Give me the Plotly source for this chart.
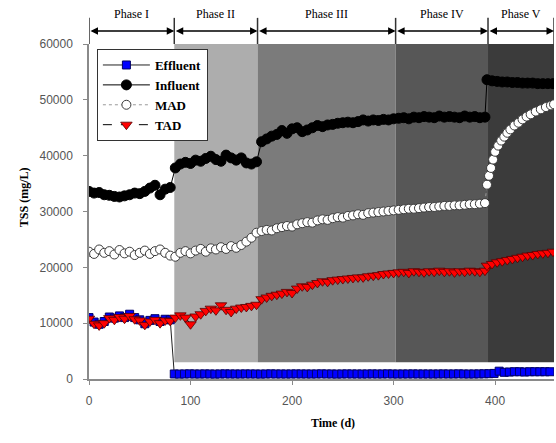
import plotly.graph_objects as go

# ---------------- data ----------------
grid_main = list(range(0, 391, 5))           # days 0..390 (phases I-IV)
days_v = list(range(392, 458, 5))            # phase V days

influent_vals = [
    # phase I (0-80)
    33600, 33300, 33400, 33000, 32900, 32700, 32600, 32800, 33000, 33300,
    33200, 33600, 34200, 34700, 33000, 34000, 34300,
    # phase II (85-165)
    37800, 38500, 38800, 38600, 39200, 39000, 39500, 39900, 39300, 39000,
    40100, 39600, 39200, 39600, 38700, 38500, 38900,
    # phase III (170-300)
    42500, 43000, 43500, 43800, 44500, 44000, 44800, 45000, 44300, 44600,
    45000, 45400, 45200, 45500, 45600, 45800, 45900, 46000, 45900, 46100,
    46400, 46200, 46400, 46300, 46500, 46400, 46600,
    # phase IV (305-390)
    46700, 46800, 46600, 46900, 46800, 47000, 46900, 46800, 47100, 46900,
    47000, 46900, 46800, 47100, 46900, 47000, 46800, 46900,
]
influent_v = [53600, 53400, 53300, 53200, 53200, 53100, 53100, 53000, 53000,
              53000, 52900, 52900, 52900, 52900]

mad_vals = [
    22800, 22400, 23200, 22600, 22900, 22300, 23100, 22500, 22800, 22200,
    22600, 23000, 22400, 22900, 23200, 22600, 22100,
    21900, 22600, 22900, 22500, 23000, 23300, 22800, 23400, 23200, 23600,
    23300, 23800, 23500, 24000, 24600, 25300, 26200,
    26500, 26700, 26600, 27000, 27200, 27400, 27300, 27700, 27900, 28100,
    28000, 28400, 28600, 28500, 28800, 29000, 28900, 29200, 29300, 29500,
    29400, 29700, 29800, 29900, 30000, 30100, 30200,
    30300, 30400, 30500, 30500, 30600, 30700, 30800, 30800, 30900, 31000,
    31000, 31100, 31100, 31200, 31300, 31300, 31400, 31500,
]
mad_days_v = [392, 394, 396, 398, 400, 403, 406, 409, 412, 415, 419, 423,
              427, 431, 435, 440, 445, 450, 455, 458]
mad_v = [34800, 36400, 37800, 39300, 40700, 41800, 42700, 43400, 44100, 44700,
         45400, 45900, 46500, 47000, 47400, 47900, 48300, 48700, 49000, 49200]

tad_vals = [
    10800, 9900, 9600, 10000, 10900, 10600, 11100, 10800, 11300, 10700,
    10500, 9700, 10300, 10600, 10000, 10500, 10400,
    11000, 11400, 11000, 9800, 11200, 11600, 12200, 12600, 12300, 13200,
    12400, 12000, 12600, 12800, 12900, 13100, 13300,
    14300, 14600, 14900, 15100, 15300, 15600, 15400, 16200, 16600, 16500,
    16900, 17200, 17500, 17400, 17700, 17800, 17900, 18000, 18100, 18200,
    18200, 18400, 18500, 18600, 18800, 18900, 19000,
    19100, 19200, 19000, 19300, 19200, 19100, 19300, 19200, 19400, 19200,
    19300, 19100, 19300, 19200, 19400, 19300, 19200, 19400,
]
tad_v = [20300, 20600, 20900, 21100, 21300, 21500, 21700, 21900, 22100,
         22200, 22400, 22500, 22600, 22800]

eff_days_1 = list(range(0, 81, 5))
eff_vals_1 = [11000, 10200, 9800, 10300, 11100, 10900, 11300, 11000, 11600,
              11000, 10600, 9900, 10500, 10800, 10300, 10700, 10600]
eff_days_2 = list(range(84, 458, 5))
eff_vals_2 = [
    # days 84-399
    900, 880, 900, 920, 900, 890, 910, 900, 880, 900,
    920, 900, 900, 890, 910, 900, 900, 880, 900, 920,
    900, 900, 890, 900, 910, 900, 900, 890, 900, 920,
    900, 900, 880, 900, 910, 900, 900, 890, 900, 910,
    900, 900, 920, 900, 890, 900, 900, 910, 900, 900,
    900, 890, 900, 910, 900, 900, 920, 900, 890, 900,
    910, 930, 950, 1000,
    # days 404-454
    1400, 1200, 1250, 1300, 1300, 1250, 1300, 1300, 1300, 1300, 1300,
]

phase_names = ["Phase I", "Phase II", "Phase III", "Phase IV", "Phase V"]
phase_bounds = [0, 84, 166, 302, 393, 458]
phase_colors = ["rgba(0,0,0,0)", "#adadad", "#7b7b7b", "#575757", "#3b3b3b"]
shade_bottom = 3000

x_ticks = [0, 100, 200, 300, 400]
y_ticks = [0, 10000, 20000, 30000, 40000, 50000, 60000]

# ---------------- figure ----------------
fig = go.Figure()

fig.add_trace(go.Scatter(
    x=eff_days_1 + eff_days_2, y=eff_vals_1 + eff_vals_2, name="Effluent",
    mode="lines+markers",
    line=dict(color="#222222", width=1),
    marker=dict(symbol="square", size=8, color="#0000ff",
                line=dict(color="#000066", width=1)),
))
fig.add_trace(go.Scatter(
    x=grid_main + days_v, y=influent_vals + influent_v, name="Influent",
    mode="lines+markers",
    line=dict(color="#000000", width=1),
    marker=dict(symbol="circle", size=10, color="#000000",
                line=dict(color="#000000", width=1)),
))
fig.add_trace(go.Scatter(
    x=grid_main + mad_days_v, y=mad_vals + mad_v, name="MAD",
    mode="lines+markers",
    line=dict(color="#999999", width=1, dash="dot"),
    marker=dict(symbol="circle", size=9, color="#ffffff",
                line=dict(color="#3a3a3a", width=1)),
))
fig.add_trace(go.Scatter(
    x=grid_main + days_v, y=tad_vals + tad_v, name="TAD",
    mode="lines+markers",
    line=dict(color="#000000", width=1, dash="dash"),
    marker=dict(symbol="triangle-down", size=10, color="#ff0000",
                line=dict(color="#550000", width=0.8)),
))

shapes = []
annotations = []
for i, name in enumerate(phase_names):
    x0, x1 = phase_bounds[i], phase_bounds[i + 1]
    if i > 0:
        shapes.append(dict(type="rect", xref="x", yref="y", x0=x0, x1=x1,
                           y0=shade_bottom, y1=60000, fillcolor=phase_colors[i],
                           line=dict(width=0), layer="below"))
    annotations.append(dict(
        x=x1, y=1.039, xref="x", yref="paper", ax=x0, axref="x",
        ay=0, ayref="pixel", showarrow=True, arrowhead=2, arrowside="end+start",
        arrowsize=1, arrowwidth=1.5, arrowcolor="#000000", text="",
        standoff=0, startstandoff=0))
    annotations.append(dict(
        x=(x0 + x1) / 2, y=1.09, xref="x", yref="paper", text=name,
        showarrow=False, yanchor="middle",
        font=dict(family="Liberation Serif", size=12, color="#000000")))
for b in phase_bounds:
    shapes.append(dict(type="line", xref="x", yref="paper", x0=b, x1=b,
                       y0=1, y1=1.078, line=dict(color="#333333", width=1.5)))

annotations.append(dict(
    x=0.525, y=-0.158, xref="paper", yref="paper", text="Time (d)",
    showarrow=False, font=dict(family="Liberation Serif", size=12,
                               color="#000000", weight="bold")))
annotations.append(dict(
    x=-0.159, y=0.543, xref="paper", yref="paper", text="TSS (mg/L)",
    showarrow=False, textangle=-90,
    font=dict(family="Liberation Serif", size=12, color="#000000",
              weight="bold")))

fig.update_layout(
    width=556, height=443,
    margin=dict(l=89, r=2, t=44, b=64),
    paper_bgcolor="white", plot_bgcolor="white",
    showlegend=True,
    legend=dict(x=0.017, y=0.985, xanchor="left", yanchor="top",
                bgcolor="white", bordercolor="#333333", borderwidth=1,
                font=dict(family="Liberation Serif", size=13, color="#000000",
                          weight="bold"),
                itemwidth=47, tracegroupgap=0),
    shapes=shapes, annotations=annotations,
    xaxis=dict(range=[0, 458], tickvals=x_ticks, showgrid=False,
               zeroline=False, showline=True, linecolor="#8a8a8a",
               linewidth=1.5, ticks="outside", ticklen=4,
               tickcolor="#8a8a8a", ticklabelstandoff=6,
               tickfont=dict(family="Liberation Sans", size=12,
                             color="#555555")),
    yaxis=dict(range=[0, 60000], tickvals=y_ticks, tickformat="d",
               showgrid=False, zeroline=False, showline=True,
               linecolor="#8a8a8a", linewidth=1.5, ticks="outside",
               ticklen=4, tickcolor="#8a8a8a", ticklabelstandoff=8,
               tickfont=dict(family="Liberation Sans", size=12,
                             color="#555555")),
)

fig.write_html("out.html")
